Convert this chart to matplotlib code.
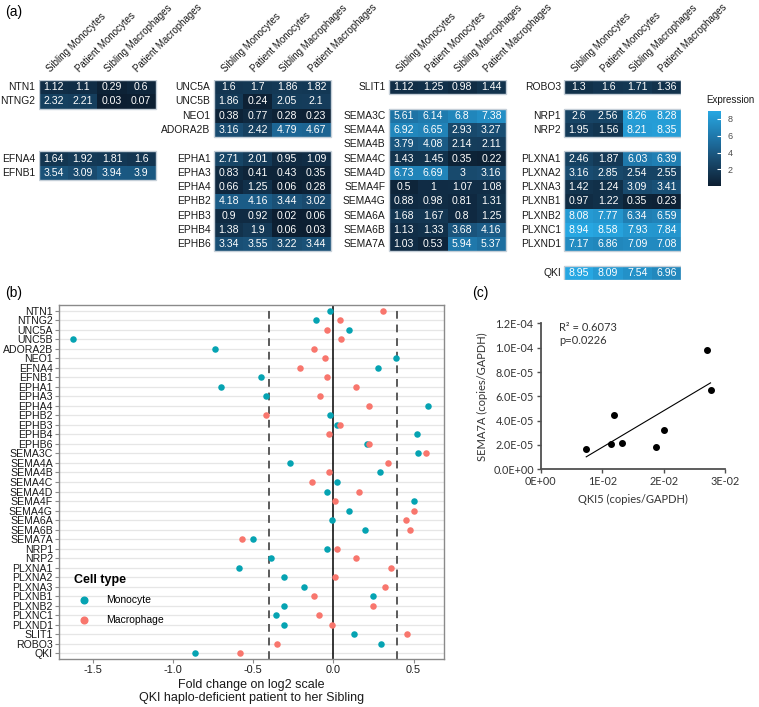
import numpy as np
import matplotlib
matplotlib.use('Agg')
import matplotlib.pyplot as plt
from matplotlib.colors import LinearSegmentedColormap
from matplotlib.patches import Rectangle
from matplotlib.lines import Line2D

plt.rcParams['font.family'] = ['Liberation Sans', 'DejaVu Sans']

# ---- data ----
genes = ['NTN1', 'NTNG2', 'UNC5A', 'UNC5B', 'ADORA2B', 'NEO1', 'EFNA4', 'EFNB1',
         'EPHA1', 'EPHA3', 'EPHA4', 'EPHB2', 'EPHB3', 'EPHB4', 'EPHB6',
         'SEMA3C', 'SEMA4A', 'SEMA4B', 'SEMA4C', 'SEMA4D', 'SEMA4F', 'SEMA4G',
         'SEMA6A', 'SEMA6B', 'SEMA7A', 'NRP1', 'NRP2',
         'PLXNA1', 'PLXNA2', 'PLXNA3', 'PLXNB1', 'PLXNB2', 'PLXNC1', 'PLXND1',
         'SLIT1', 'ROBO3', 'QKI']

conditions = ['Sibling Monocytes', 'Patient Monocytes', 'Sibling Macrophages', 'Patient Macrophages']

sib_mono = [1.12, 2.32, 1.6, 1.86, 3.16, 0.38, 1.64, 3.54,
            2.71, 0.83, 0.66, 4.18, 0.9, 1.38, 3.34,
            5.61, 6.92, 3.79, 1.43, 6.73, 0.5, 0.88,
            1.68, 1.13, 1.03, 2.6, 1.95,
            2.46, 3.16, 1.42, 0.97, 8.08, 8.94, 7.17,
            1.12, 1.3, 8.95]
pat_mono = [1.1, 2.21, 1.7, 0.24, 2.42, 0.77, 1.92, 3.09,
            2.01, 0.41, 1.25, 4.16, 0.92, 1.9, 3.55,
            6.14, 6.65, 4.08, 1.45, 6.69, 1, 0.98,
            1.67, 1.33, 0.53, 2.56, 1.56,
            1.87, 2.85, 1.24, 1.22, 7.77, 8.58, 6.86,
            1.25, 1.6, 8.09]
sib_mac = [0.29, 0.03, 1.86, 2.05, 4.79, 0.28, 1.81, 3.94,
           0.95, 0.43, 0.06, 3.44, 0.02, 0.06, 3.22,
           6.8, 2.93, 2.14, 0.35, 3, 1.07, 0.81,
           0.8, 3.68, 5.94, 8.26, 8.21,
           6.03, 2.54, 3.09, 0.35, 6.34, 7.93, 7.09,
           0.98, 1.71, 7.54]
pat_mac = [0.6, 0.07, 1.82, 2.1, 4.67, 0.23, 1.6, 3.9,
           1.09, 0.35, 0.28, 3.02, 0.06, 0.03, 3.44,
           7.38, 3.27, 2.11, 0.22, 3.16, 1.08, 1.31,
           1.25, 4.16, 5.37, 8.28, 8.35,
           6.39, 2.55, 3.41, 0.23, 6.59, 7.84, 7.08,
           1.44, 1.36, 6.96]

# log2 fold change patient vs sibling (panel b)
fc_mono = [-0.02, -0.11, 0.10, -1.62, -0.74, 0.39, 0.28, -0.45,
           -0.70, -0.42, 0.59, -0.02, 0.02, 0.52, 0.21,
           0.53, -0.27, 0.29, 0.02, -0.04, 0.50, 0.10,
           -0.01, 0.20, -0.50, -0.04, -0.39,
           -0.59, -0.31, -0.18, 0.25, -0.31, -0.36, -0.31,
           0.13, 0.30, -0.86]
fc_mac = [0.31, 0.04, -0.04, 0.05, -0.12, -0.05, -0.21, -0.04,
          0.14, -0.08, 0.22, -0.42, 0.04, -0.03, 0.22,
          0.58, 0.34, -0.03, -0.13, 0.16, 0.01, 0.50,
          0.45, 0.48, -0.57, 0.02, 0.14,
          0.36, 0.01, 0.32, -0.12, 0.25, -0.09, -0.01,
          0.46, -0.35, -0.58]

# panel c
qki5 = [0.0074, 0.0115, 0.0119, 0.0132, 0.0188, 0.0200, 0.0270, 0.0276]
sema7a = [1.65e-5, 2.1e-5, 4.45e-5, 2.15e-5, 1.8e-5, 3.25e-5, 9.85e-5, 6.5e-5]

# heatmap block layout: (block column, first row, genes)
blocks = [
    (0, 0, ['NTN1', 'NTNG2']),
    (0, 5, ['EFNA4', 'EFNB1']),
    (1, 0, ['UNC5A', 'UNC5B', 'NEO1', 'ADORA2B']),
    (1, 5, ['EPHA1', 'EPHA3', 'EPHA4', 'EPHB2', 'EPHB3', 'EPHB4', 'EPHB6']),
    (2, 0, ['SLIT1']),
    (2, 2, ['SEMA3C', 'SEMA4A', 'SEMA4B', 'SEMA4C', 'SEMA4D', 'SEMA4F', 'SEMA4G',
            'SEMA6A', 'SEMA6B', 'SEMA7A']),
    (3, 0, ['ROBO3']),
    (3, 2, ['NRP1', 'NRP2']),
    (3, 5, ['PLXNA1', 'PLXNA2', 'PLXNA3', 'PLXNB1', 'PLXNB2', 'PLXNC1', 'PLXND1']),
    (3, 13, ['QKI']),
]

W, H = 759, 707
fig = plt.figure(figsize=(W / 100, H / 100), dpi=100)


def px_axes(x0, y0, x1, y1):
    return fig.add_axes([x0 / W, 1 - y1 / H, (x1 - x0) / W, (y1 - y0) / H])


# ---- (a) heatmap ----
cmap = LinearSegmentedColormap.from_list(
    'gg', [(0, '#0C1E31'), (0.35, '#194C70'), (0.55, '#1C6898'), (1, '#27A7E2')])
vmin = min(sib_mono + pat_mono + sib_mac + pat_mac)
vmax = max(sib_mono + pat_mono + sib_mac + pat_mac)

axh = px_axes(39, 80, 681, 280)
grid = np.full((14, 22), np.nan)
for b, r0, gl in blocks:
    for i, g in enumerate(gl):
        k = genes.index(g)
        vals = [sib_mono[k], pat_mono[k], sib_mac[k], pat_mac[k]]
        for c, v in enumerate(vals):
            grid[r0 + i, 6 * b + c] = v
            axh.text(6 * b + c + 0.5, r0 + i, f'{v:g}', ha='center', va='center',
                     color='white', fontsize=7.6)
        axh.text(6 * b - 0.12, r0 + i, g, ha='right', va='center', fontsize=7.4, color='#1a1a1a')
    axh.add_patch(Rectangle((6 * b, r0 - 0.5), 4, len(gl), fill=False, ec='#c5cfd8', lw=1, zorder=3))

mesh = axh.pcolormesh(np.arange(23), np.arange(15) - 0.5, np.ma.masked_invalid(grid),
                      cmap=cmap, vmin=vmin, vmax=vmax)
for b in range(4):
    for c, lab in enumerate(conditions):
        axh.text(6 * b + c + 0.38, -1.0, lab, rotation=45, rotation_mode='anchor',
                 ha='left', va='baseline', fontsize=7, color='#1a1a1a')
axh.set_xlim(0, 22)
axh.set_ylim(13.5, -0.5)
axh.axis('off')

cax = px_axes(708, 111, 721, 186)
cb = fig.colorbar(mesh, cax=cax, ticks=[2, 4, 6, 8])
cb.outline.set_visible(False)
cax.tick_params(length=3, direction='in', color='white', labelsize=6.5, labelcolor='#4d4d4d', pad=5)
fig.text(706 / W, 1 - 100 / H, 'Expression', fontsize=7, va='center', color='#1a1a1a')

# ---- (b) dot plot ----
axb = px_axes(59, 305, 444, 659)
y = np.arange(len(genes))
mono_col = '#05A3B2'
mac_col = '#F8766D'
axb.grid(axis='y', color='#e6e6e6', lw=0.9)
axb.set_axisbelow(True)
axb.axvline(0, color='black', lw=1.1, zorder=2)
for xv in (-0.4, 0.4):
    axb.axvline(xv, color='#5a5a5a', lw=1.4, ls=(0, (4, 3)), zorder=2)
axb.scatter(fc_mono, y, s=22, color=mono_col, lw=0, zorder=3)
axb.scatter(fc_mac, y, s=22, color=mac_col, lw=0, zorder=4)
axb.set_yticks(y)
axb.set_yticklabels(genes, fontsize=7.6)
axb.set_xticks([-1.5, -1.0, -0.5, 0, 0.5])
axb.set_xticklabels(['-1.5', '-1.0', '-0.5', '0.0', '0.5'], fontsize=7.8)
axb.set_xlim(-1.71, 0.69)
axb.set_ylim(36.6, -0.6)
for s in axb.spines.values():
    s.set_color('#8a8a8a')
    s.set_linewidth(1.0)
axb.tick_params(color='#8a8a8a', length=3, labelcolor='#1a1a1a', pad=1.5)
axb.set_xlabel('Fold change on log2 scale\nQKI haplo-deficient patient to her Sibling',
               fontsize=9, labelpad=3, color='#1a1a1a', linespacing=1.1)
handles = [Line2D([], [], marker='o', ls='', color=mono_col, markersize=4.8),
           Line2D([], [], marker='o', ls='', color=mac_col, markersize=4.8)]
leg = axb.legend(handles, ['Monocyte', 'Macrophage'], title='Cell type', loc='upper left',
                 bbox_to_anchor=(0.02, 0.262), frameon=False, fontsize=7.5,
                 title_fontproperties={'weight': 'bold', 'size': 9},
                 alignment='left', handletextpad=1.1, labelspacing=0.95, borderpad=0.2)

# ---- (c) scatter ----
cfont = ['Lato', 'DejaVu Sans']
axc = px_axes(540.7, 323.4, 725.3, 469.3)
xs = np.array(qki5)
ys = np.array(sema7a)
axc.scatter(xs, ys, s=16, color='black', zorder=3)
slope, icpt = np.polyfit(xs, ys, 1)
xl = np.array([xs.min(), xs.max()])
axc.plot(xl, slope * xl + icpt, color='black', lw=0.8)
axc.set_xlim(0, 0.03)
axc.set_ylim(0, 1.2e-4)
axc.set_xticks([0, 0.01, 0.02, 0.03])
axc.set_xticklabels(['0E+00', '1E-02', '2E-02', '3E-02'], family=cfont, fontsize=7.8)
axc.set_yticks([0, 2e-5, 4e-5, 6e-5, 8e-5, 1e-4, 1.2e-4])
axc.set_yticklabels(['0.0E+00', '2.0E-05', '4.0E-05', '6.0E-05', '8.0E-05', '1.0E-04', '1.2E-04'],
                    family=cfont, fontsize=7.8)
for side in ('top', 'right'):
    axc.spines[side].set_visible(False)
for side in ('left', 'bottom'):
    axc.spines[side].set_color('#505050')
    axc.spines[side].set_linewidth(1.3)
axc.tick_params(color='#505050', length=3, width=1, labelcolor='#333333', pad=2)
axc.set_xlabel('QKI5 (copies/GAPDH)', family=cfont, fontsize=8, color='#333333', labelpad=5)
axc.set_ylabel('SEMA7A (copies/GAPDH)', family=cfont, fontsize=8, color='#333333', labelpad=4)
axc.text(0.099, 0.975, 'R² = 0.6073', transform=axc.transAxes, family=cfont, fontsize=8,
         va='center', color='#333333')
axc.text(0.099, 0.88, 'p=0.0226', transform=axc.transAxes, family=cfont, fontsize=8,
         va='center', color='#333333')

# panel letters
fig.text(5 / W, 1 - 12 / H, '(a)', fontsize=10, va='center')
fig.text(5 / W, 1 - 293 / H, '(b)', fontsize=10, va='center')
fig.text(472 / W, 1 - 293 / H, '(c)', fontsize=10, va='center')

fig.savefig('out.png', dpi=100)
plt.close()
